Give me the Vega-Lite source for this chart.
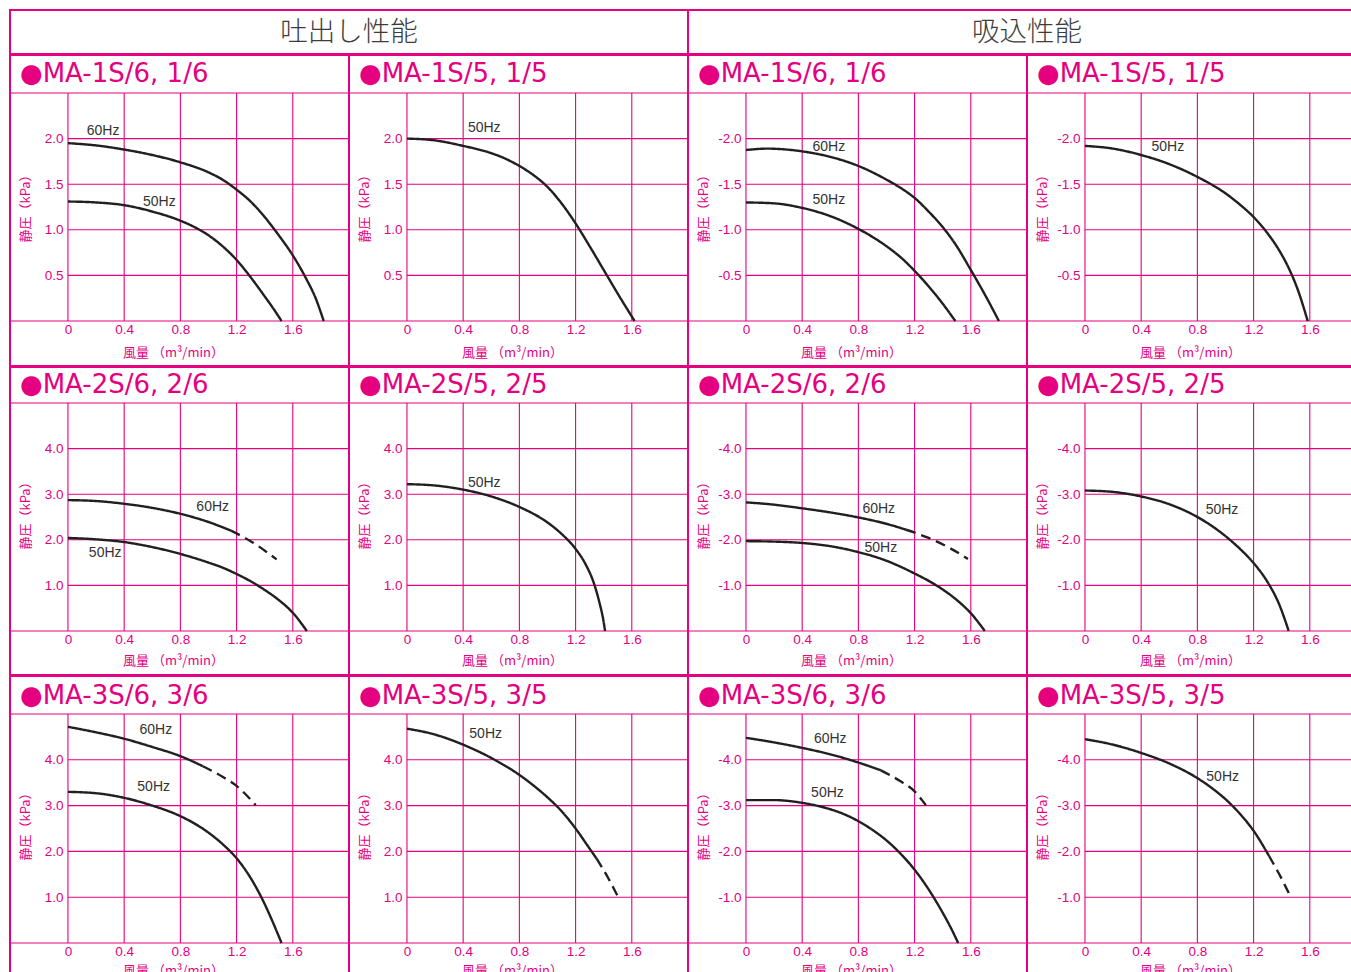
{
"$schema": "https://vega.github.io/schema/vega-lite/v6.json",
"padding": {"left": 8, "top": 9, "right": 0, "bottom": 0},
"background": "white",
"config": {
  "view": {"stroke": "#e4007f", "strokeWidth": 2},
  "title": {"anchor": "start", "frame": "group", "baseline": "alphabetic", "dx": 10, "fontSize": 26, "fontWeight": "normal", "color": "#e4007f", "font": "DejaVu Sans"},
  "axis": {"grid": false, "domain": false, "ticks": false, "tickSize": 0, "labelFlush": false, "labelOverlap": false, "labelColor": "#e4007f", "labelFont": "Liberation Sans", "labelFontSize": 13.5, "titleColor": "#e4007f", "titleFont": "Noto Sans CJK JP", "titleFontSize": 13, "titleFontWeight": "normal"}
},
"datasets": {
  "gx": [{"v": 0}, {"v": 0.4}, {"v": 0.8}, {"v": 1.2}, {"v": 1.6}],
  "gyd1": [{"v": 0.5}, {"v": 1}, {"v": 1.5}, {"v": 2}],
  "gys1": [{"v": -0.5}, {"v": -1}, {"v": -1.5}, {"v": -2}],
  "gyd2": [{"v": 1}, {"v": 2}, {"v": 3}, {"v": 4}],
  "gys2": [{"v": -1}, {"v": -2}, {"v": -3}, {"v": -4}],
  "ed1": [{"v": 0}, {"v": 2.5}],
  "es1": [{"v": 0}, {"v": -2.5}],
  "ed2": [{"v": 0}, {"v": 5}],
  "es2": [{"v": 0}, {"v": -5}],
  "lab": [
    {"panel": 1, "hz": "60Hz", "q": 0.25, "kpa": 2.08},
    {"panel": 1, "hz": "50Hz", "q": 0.65, "kpa": 1.31},
    {"panel": 2, "hz": "50Hz", "q": 0.55, "kpa": 2.12},
    {"panel": 3, "hz": "60Hz", "q": 0.59, "kpa": -1.91},
    {"panel": 3, "hz": "50Hz", "q": 0.59, "kpa": -1.33},
    {"panel": 4, "hz": "50Hz", "q": 0.59, "kpa": -1.91},
    {"panel": 5, "hz": "60Hz", "q": 1.03, "kpa": 2.71},
    {"panel": 5, "hz": "50Hz", "q": 0.265, "kpa": 1.71},
    {"panel": 6, "hz": "50Hz", "q": 0.55, "kpa": 3.24},
    {"panel": 7, "hz": "60Hz", "q": 0.945, "kpa": -2.67},
    {"panel": 7, "hz": "50Hz", "q": 0.96, "kpa": -1.82},
    {"panel": 8, "hz": "50Hz", "q": 0.975, "kpa": -2.65},
    {"panel": 9, "hz": "60Hz", "q": 0.625, "kpa": 4.64},
    {"panel": 9, "hz": "50Hz", "q": 0.61, "kpa": 3.4},
    {"panel": 10, "hz": "50Hz", "q": 0.56, "kpa": 4.56},
    {"panel": 11, "hz": "60Hz", "q": 0.6, "kpa": -4.45},
    {"panel": 11, "hz": "50Hz", "q": 0.58, "kpa": -3.28},
    {"panel": 12, "hz": "50Hz", "q": 0.98, "kpa": -3.62}
  ],
  "c": [
    {"panel": 1, "hz": "60Hz", "seg": "s", "q": 0, "kpa": 1.95},
    {"panel": 1, "hz": "60Hz", "seg": "s", "q": 0.2, "kpa": 1.925},
    {"panel": 1, "hz": "60Hz", "seg": "s", "q": 0.4, "kpa": 1.88},
    {"panel": 1, "hz": "60Hz", "seg": "s", "q": 0.6, "kpa": 1.82},
    {"panel": 1, "hz": "60Hz", "seg": "s", "q": 0.8, "kpa": 1.74},
    {"panel": 1, "hz": "60Hz", "seg": "s", "q": 1.0, "kpa": 1.63},
    {"panel": 1, "hz": "60Hz", "seg": "s", "q": 1.1, "kpa": 1.55},
    {"panel": 1, "hz": "60Hz", "seg": "s", "q": 1.2, "kpa": 1.44},
    {"panel": 1, "hz": "60Hz", "seg": "s", "q": 1.3, "kpa": 1.31},
    {"panel": 1, "hz": "60Hz", "seg": "s", "q": 1.4, "kpa": 1.14},
    {"panel": 1, "hz": "60Hz", "seg": "s", "q": 1.5, "kpa": 0.94},
    {"panel": 1, "hz": "60Hz", "seg": "s", "q": 1.6, "kpa": 0.72},
    {"panel": 1, "hz": "60Hz", "seg": "s", "q": 1.7, "kpa": 0.45},
    {"panel": 1, "hz": "60Hz", "seg": "s", "q": 1.76, "kpa": 0.26},
    {"panel": 1, "hz": "60Hz", "seg": "s", "q": 1.82, "kpa": 0},
    {"panel": 1, "hz": "50Hz", "seg": "s", "q": 0, "kpa": 1.31},
    {"panel": 1, "hz": "50Hz", "seg": "s", "q": 0.2, "kpa": 1.3},
    {"panel": 1, "hz": "50Hz", "seg": "s", "q": 0.4, "kpa": 1.27},
    {"panel": 1, "hz": "50Hz", "seg": "s", "q": 0.6, "kpa": 1.2},
    {"panel": 1, "hz": "50Hz", "seg": "s", "q": 0.8, "kpa": 1.1},
    {"panel": 1, "hz": "50Hz", "seg": "s", "q": 0.9, "kpa": 1.03},
    {"panel": 1, "hz": "50Hz", "seg": "s", "q": 1.0, "kpa": 0.94},
    {"panel": 1, "hz": "50Hz", "seg": "s", "q": 1.1, "kpa": 0.82},
    {"panel": 1, "hz": "50Hz", "seg": "s", "q": 1.2, "kpa": 0.67},
    {"panel": 1, "hz": "50Hz", "seg": "s", "q": 1.3, "kpa": 0.48},
    {"panel": 1, "hz": "50Hz", "seg": "s", "q": 1.4, "kpa": 0.27},
    {"panel": 1, "hz": "50Hz", "seg": "s", "q": 1.46, "kpa": 0.14},
    {"panel": 1, "hz": "50Hz", "seg": "s", "q": 1.52, "kpa": 0},
    {"panel": 2, "hz": "50Hz", "seg": "s", "q": 0, "kpa": 2.0},
    {"panel": 2, "hz": "50Hz", "seg": "s", "q": 0.2, "kpa": 1.98},
    {"panel": 2, "hz": "50Hz", "seg": "s", "q": 0.4, "kpa": 1.92},
    {"panel": 2, "hz": "50Hz", "seg": "s", "q": 0.6, "kpa": 1.84},
    {"panel": 2, "hz": "50Hz", "seg": "s", "q": 0.7, "kpa": 1.78},
    {"panel": 2, "hz": "50Hz", "seg": "s", "q": 0.8, "kpa": 1.7},
    {"panel": 2, "hz": "50Hz", "seg": "s", "q": 0.9, "kpa": 1.6},
    {"panel": 2, "hz": "50Hz", "seg": "s", "q": 1.0, "kpa": 1.47},
    {"panel": 2, "hz": "50Hz", "seg": "s", "q": 1.1, "kpa": 1.29},
    {"panel": 2, "hz": "50Hz", "seg": "s", "q": 1.2, "kpa": 1.07},
    {"panel": 2, "hz": "50Hz", "seg": "s", "q": 1.3, "kpa": 0.82},
    {"panel": 2, "hz": "50Hz", "seg": "s", "q": 1.4, "kpa": 0.56},
    {"panel": 2, "hz": "50Hz", "seg": "s", "q": 1.5, "kpa": 0.3},
    {"panel": 2, "hz": "50Hz", "seg": "s", "q": 1.62, "kpa": 0},
    {"panel": 3, "hz": "60Hz", "seg": "s", "q": 0, "kpa": -1.875},
    {"panel": 3, "hz": "60Hz", "seg": "s", "q": 0.15, "kpa": -1.89},
    {"panel": 3, "hz": "60Hz", "seg": "s", "q": 0.4, "kpa": -1.86},
    {"panel": 3, "hz": "60Hz", "seg": "s", "q": 0.6, "kpa": -1.8},
    {"panel": 3, "hz": "60Hz", "seg": "s", "q": 0.8, "kpa": -1.7},
    {"panel": 3, "hz": "60Hz", "seg": "s", "q": 1.0, "kpa": -1.55},
    {"panel": 3, "hz": "60Hz", "seg": "s", "q": 1.1, "kpa": -1.46},
    {"panel": 3, "hz": "60Hz", "seg": "s", "q": 1.2, "kpa": -1.35},
    {"panel": 3, "hz": "60Hz", "seg": "s", "q": 1.3, "kpa": -1.2},
    {"panel": 3, "hz": "60Hz", "seg": "s", "q": 1.4, "kpa": -1.03},
    {"panel": 3, "hz": "60Hz", "seg": "s", "q": 1.5, "kpa": -0.82},
    {"panel": 3, "hz": "60Hz", "seg": "s", "q": 1.6, "kpa": -0.56},
    {"panel": 3, "hz": "60Hz", "seg": "s", "q": 1.7, "kpa": -0.29},
    {"panel": 3, "hz": "60Hz", "seg": "s", "q": 1.8, "kpa": 0},
    {"panel": 3, "hz": "50Hz", "seg": "s", "q": 0, "kpa": -1.3},
    {"panel": 3, "hz": "50Hz", "seg": "s", "q": 0.2, "kpa": -1.29},
    {"panel": 3, "hz": "50Hz", "seg": "s", "q": 0.4, "kpa": -1.24},
    {"panel": 3, "hz": "50Hz", "seg": "s", "q": 0.6, "kpa": -1.15},
    {"panel": 3, "hz": "50Hz", "seg": "s", "q": 0.8, "kpa": -1.01},
    {"panel": 3, "hz": "50Hz", "seg": "s", "q": 1.0, "kpa": -0.82},
    {"panel": 3, "hz": "50Hz", "seg": "s", "q": 1.1, "kpa": -0.7},
    {"panel": 3, "hz": "50Hz", "seg": "s", "q": 1.2, "kpa": -0.55},
    {"panel": 3, "hz": "50Hz", "seg": "s", "q": 1.3, "kpa": -0.38},
    {"panel": 3, "hz": "50Hz", "seg": "s", "q": 1.4, "kpa": -0.19},
    {"panel": 3, "hz": "50Hz", "seg": "s", "q": 1.49, "kpa": 0},
    {"panel": 4, "hz": "50Hz", "seg": "s", "q": 0, "kpa": -1.92},
    {"panel": 4, "hz": "50Hz", "seg": "s", "q": 0.2, "kpa": -1.89},
    {"panel": 4, "hz": "50Hz", "seg": "s", "q": 0.4, "kpa": -1.82},
    {"panel": 4, "hz": "50Hz", "seg": "s", "q": 0.6, "kpa": -1.72},
    {"panel": 4, "hz": "50Hz", "seg": "s", "q": 0.8, "kpa": -1.58},
    {"panel": 4, "hz": "50Hz", "seg": "s", "q": 1.0, "kpa": -1.4},
    {"panel": 4, "hz": "50Hz", "seg": "s", "q": 1.1, "kpa": -1.28},
    {"panel": 4, "hz": "50Hz", "seg": "s", "q": 1.2, "kpa": -1.14},
    {"panel": 4, "hz": "50Hz", "seg": "s", "q": 1.3, "kpa": -0.96},
    {"panel": 4, "hz": "50Hz", "seg": "s", "q": 1.38, "kpa": -0.78},
    {"panel": 4, "hz": "50Hz", "seg": "s", "q": 1.45, "kpa": -0.58},
    {"panel": 4, "hz": "50Hz", "seg": "s", "q": 1.52, "kpa": -0.32},
    {"panel": 4, "hz": "50Hz", "seg": "s", "q": 1.585, "kpa": 0},
    {"panel": 5, "hz": "60Hz", "seg": "s", "q": 0, "kpa": 2.87},
    {"panel": 5, "hz": "60Hz", "seg": "s", "q": 0.2, "kpa": 2.85},
    {"panel": 5, "hz": "60Hz", "seg": "s", "q": 0.4, "kpa": 2.79},
    {"panel": 5, "hz": "60Hz", "seg": "s", "q": 0.6, "kpa": 2.7},
    {"panel": 5, "hz": "60Hz", "seg": "s", "q": 0.8, "kpa": 2.57},
    {"panel": 5, "hz": "60Hz", "seg": "s", "q": 1.0, "kpa": 2.39},
    {"panel": 5, "hz": "60Hz", "seg": "s", "q": 1.16, "kpa": 2.2},
    {"panel": 5, "hz": "60Hz", "seg": "d", "q": 1.16, "kpa": 2.2},
    {"panel": 5, "hz": "60Hz", "seg": "d", "q": 1.3, "kpa": 1.97},
    {"panel": 5, "hz": "60Hz", "seg": "d", "q": 1.485, "kpa": 1.57},
    {"panel": 5, "hz": "50Hz", "seg": "s", "q": 0, "kpa": 2.04},
    {"panel": 5, "hz": "50Hz", "seg": "s", "q": 0.2, "kpa": 2.01},
    {"panel": 5, "hz": "50Hz", "seg": "s", "q": 0.4, "kpa": 1.95},
    {"panel": 5, "hz": "50Hz", "seg": "s", "q": 0.6, "kpa": 1.84},
    {"panel": 5, "hz": "50Hz", "seg": "s", "q": 0.8, "kpa": 1.69},
    {"panel": 5, "hz": "50Hz", "seg": "s", "q": 1.0, "kpa": 1.5},
    {"panel": 5, "hz": "50Hz", "seg": "s", "q": 1.1, "kpa": 1.39},
    {"panel": 5, "hz": "50Hz", "seg": "s", "q": 1.2, "kpa": 1.25},
    {"panel": 5, "hz": "50Hz", "seg": "s", "q": 1.3, "kpa": 1.09},
    {"panel": 5, "hz": "50Hz", "seg": "s", "q": 1.4, "kpa": 0.9},
    {"panel": 5, "hz": "50Hz", "seg": "s", "q": 1.5, "kpa": 0.68},
    {"panel": 5, "hz": "50Hz", "seg": "s", "q": 1.6, "kpa": 0.4},
    {"panel": 5, "hz": "50Hz", "seg": "s", "q": 1.7, "kpa": 0},
    {"panel": 6, "hz": "50Hz", "seg": "s", "q": 0, "kpa": 3.22},
    {"panel": 6, "hz": "50Hz", "seg": "s", "q": 0.2, "kpa": 3.19},
    {"panel": 6, "hz": "50Hz", "seg": "s", "q": 0.4, "kpa": 3.1},
    {"panel": 6, "hz": "50Hz", "seg": "s", "q": 0.6, "kpa": 2.95},
    {"panel": 6, "hz": "50Hz", "seg": "s", "q": 0.8, "kpa": 2.72},
    {"panel": 6, "hz": "50Hz", "seg": "s", "q": 1.0, "kpa": 2.38},
    {"panel": 6, "hz": "50Hz", "seg": "s", "q": 1.1, "kpa": 2.13},
    {"panel": 6, "hz": "50Hz", "seg": "s", "q": 1.2, "kpa": 1.8},
    {"panel": 6, "hz": "50Hz", "seg": "s", "q": 1.27, "kpa": 1.47},
    {"panel": 6, "hz": "50Hz", "seg": "s", "q": 1.33, "kpa": 1.05},
    {"panel": 6, "hz": "50Hz", "seg": "s", "q": 1.37, "kpa": 0.62},
    {"panel": 6, "hz": "50Hz", "seg": "s", "q": 1.395, "kpa": 0.28},
    {"panel": 6, "hz": "50Hz", "seg": "s", "q": 1.41, "kpa": 0},
    {"panel": 7, "hz": "60Hz", "seg": "s", "q": 0, "kpa": -2.82},
    {"panel": 7, "hz": "60Hz", "seg": "s", "q": 0.2, "kpa": -2.77},
    {"panel": 7, "hz": "60Hz", "seg": "s", "q": 0.4, "kpa": -2.69},
    {"panel": 7, "hz": "60Hz", "seg": "s", "q": 0.6, "kpa": -2.6},
    {"panel": 7, "hz": "60Hz", "seg": "s", "q": 0.8, "kpa": -2.49},
    {"panel": 7, "hz": "60Hz", "seg": "s", "q": 1.0, "kpa": -2.35},
    {"panel": 7, "hz": "60Hz", "seg": "s", "q": 1.14, "kpa": -2.22},
    {"panel": 7, "hz": "60Hz", "seg": "d", "q": 1.14, "kpa": -2.22},
    {"panel": 7, "hz": "60Hz", "seg": "d", "q": 1.3, "kpa": -2.04},
    {"panel": 7, "hz": "60Hz", "seg": "d", "q": 1.45, "kpa": -1.82},
    {"panel": 7, "hz": "60Hz", "seg": "d", "q": 1.58, "kpa": -1.58},
    {"panel": 7, "hz": "50Hz", "seg": "s", "q": 0, "kpa": -1.97},
    {"panel": 7, "hz": "50Hz", "seg": "s", "q": 0.2, "kpa": -1.96},
    {"panel": 7, "hz": "50Hz", "seg": "s", "q": 0.4, "kpa": -1.93},
    {"panel": 7, "hz": "50Hz", "seg": "s", "q": 0.6, "kpa": -1.86},
    {"panel": 7, "hz": "50Hz", "seg": "s", "q": 0.8, "kpa": -1.73},
    {"panel": 7, "hz": "50Hz", "seg": "s", "q": 1.0, "kpa": -1.54},
    {"panel": 7, "hz": "50Hz", "seg": "s", "q": 1.1, "kpa": -1.41},
    {"panel": 7, "hz": "50Hz", "seg": "s", "q": 1.2, "kpa": -1.26},
    {"panel": 7, "hz": "50Hz", "seg": "s", "q": 1.3, "kpa": -1.1},
    {"panel": 7, "hz": "50Hz", "seg": "s", "q": 1.4, "kpa": -0.91},
    {"panel": 7, "hz": "50Hz", "seg": "s", "q": 1.5, "kpa": -0.68},
    {"panel": 7, "hz": "50Hz", "seg": "s", "q": 1.6, "kpa": -0.39},
    {"panel": 7, "hz": "50Hz", "seg": "s", "q": 1.7, "kpa": 0},
    {"panel": 8, "hz": "50Hz", "seg": "s", "q": 0, "kpa": -3.08},
    {"panel": 8, "hz": "50Hz", "seg": "s", "q": 0.2, "kpa": -3.05},
    {"panel": 8, "hz": "50Hz", "seg": "s", "q": 0.4, "kpa": -2.95},
    {"panel": 8, "hz": "50Hz", "seg": "s", "q": 0.6, "kpa": -2.78},
    {"panel": 8, "hz": "50Hz", "seg": "s", "q": 0.8, "kpa": -2.5},
    {"panel": 8, "hz": "50Hz", "seg": "s", "q": 0.9, "kpa": -2.31},
    {"panel": 8, "hz": "50Hz", "seg": "s", "q": 1.0, "kpa": -2.08},
    {"panel": 8, "hz": "50Hz", "seg": "s", "q": 1.1, "kpa": -1.81},
    {"panel": 8, "hz": "50Hz", "seg": "s", "q": 1.2, "kpa": -1.49},
    {"panel": 8, "hz": "50Hz", "seg": "s", "q": 1.3, "kpa": -1.07},
    {"panel": 8, "hz": "50Hz", "seg": "s", "q": 1.38, "kpa": -0.6},
    {"panel": 8, "hz": "50Hz", "seg": "s", "q": 1.45, "kpa": 0},
    {"panel": 9, "hz": "60Hz", "seg": "s", "q": 0, "kpa": 4.72},
    {"panel": 9, "hz": "60Hz", "seg": "s", "q": 0.2, "kpa": 4.6},
    {"panel": 9, "hz": "60Hz", "seg": "s", "q": 0.4, "kpa": 4.46},
    {"panel": 9, "hz": "60Hz", "seg": "s", "q": 0.6, "kpa": 4.28},
    {"panel": 9, "hz": "60Hz", "seg": "s", "q": 0.8, "kpa": 4.08},
    {"panel": 9, "hz": "60Hz", "seg": "s", "q": 0.96, "kpa": 3.86},
    {"panel": 9, "hz": "60Hz", "seg": "d", "q": 0.96, "kpa": 3.86},
    {"panel": 9, "hz": "60Hz", "seg": "d", "q": 1.1, "kpa": 3.63},
    {"panel": 9, "hz": "60Hz", "seg": "d", "q": 1.2, "kpa": 3.43},
    {"panel": 9, "hz": "60Hz", "seg": "d", "q": 1.336, "kpa": 3.01},
    {"panel": 9, "hz": "50Hz", "seg": "s", "q": 0, "kpa": 3.3},
    {"panel": 9, "hz": "50Hz", "seg": "s", "q": 0.2, "kpa": 3.27},
    {"panel": 9, "hz": "50Hz", "seg": "s", "q": 0.4, "kpa": 3.17},
    {"panel": 9, "hz": "50Hz", "seg": "s", "q": 0.6, "kpa": 3.0},
    {"panel": 9, "hz": "50Hz", "seg": "s", "q": 0.8, "kpa": 2.77},
    {"panel": 9, "hz": "50Hz", "seg": "s", "q": 0.9, "kpa": 2.61},
    {"panel": 9, "hz": "50Hz", "seg": "s", "q": 1.0, "kpa": 2.41},
    {"panel": 9, "hz": "50Hz", "seg": "s", "q": 1.1, "kpa": 2.16},
    {"panel": 9, "hz": "50Hz", "seg": "s", "q": 1.2, "kpa": 1.85},
    {"panel": 9, "hz": "50Hz", "seg": "s", "q": 1.3, "kpa": 1.42},
    {"panel": 9, "hz": "50Hz", "seg": "s", "q": 1.4, "kpa": 0.85},
    {"panel": 9, "hz": "50Hz", "seg": "s", "q": 1.46, "kpa": 0.44},
    {"panel": 9, "hz": "50Hz", "seg": "s", "q": 1.52, "kpa": 0},
    {"panel": 10, "hz": "50Hz", "seg": "s", "q": 0, "kpa": 4.68},
    {"panel": 10, "hz": "50Hz", "seg": "s", "q": 0.2, "kpa": 4.55},
    {"panel": 10, "hz": "50Hz", "seg": "s", "q": 0.4, "kpa": 4.33},
    {"panel": 10, "hz": "50Hz", "seg": "s", "q": 0.6, "kpa": 4.04},
    {"panel": 10, "hz": "50Hz", "seg": "s", "q": 0.8, "kpa": 3.67},
    {"panel": 10, "hz": "50Hz", "seg": "s", "q": 0.9, "kpa": 3.44},
    {"panel": 10, "hz": "50Hz", "seg": "s", "q": 1.0, "kpa": 3.18},
    {"panel": 10, "hz": "50Hz", "seg": "s", "q": 1.1, "kpa": 2.88},
    {"panel": 10, "hz": "50Hz", "seg": "s", "q": 1.2, "kpa": 2.5},
    {"panel": 10, "hz": "50Hz", "seg": "s", "q": 1.3, "kpa": 2.06},
    {"panel": 10, "hz": "50Hz", "seg": "s", "q": 1.35, "kpa": 1.84},
    {"panel": 10, "hz": "50Hz", "seg": "d", "q": 1.35, "kpa": 1.84},
    {"panel": 10, "hz": "50Hz", "seg": "d", "q": 1.43, "kpa": 1.43},
    {"panel": 10, "hz": "50Hz", "seg": "d", "q": 1.5, "kpa": 1.02},
    {"panel": 11, "hz": "60Hz", "seg": "s", "q": 0, "kpa": -4.48},
    {"panel": 11, "hz": "60Hz", "seg": "s", "q": 0.2, "kpa": -4.38},
    {"panel": 11, "hz": "60Hz", "seg": "s", "q": 0.4, "kpa": -4.26},
    {"panel": 11, "hz": "60Hz", "seg": "s", "q": 0.6, "kpa": -4.12},
    {"panel": 11, "hz": "60Hz", "seg": "s", "q": 0.8, "kpa": -3.94},
    {"panel": 11, "hz": "60Hz", "seg": "s", "q": 0.96, "kpa": -3.77},
    {"panel": 11, "hz": "60Hz", "seg": "d", "q": 0.96, "kpa": -3.77},
    {"panel": 11, "hz": "60Hz", "seg": "d", "q": 1.1, "kpa": -3.53},
    {"panel": 11, "hz": "60Hz", "seg": "d", "q": 1.2, "kpa": -3.31},
    {"panel": 11, "hz": "60Hz", "seg": "d", "q": 1.28, "kpa": -3.01},
    {"panel": 11, "hz": "50Hz", "seg": "s", "q": 0, "kpa": -3.12},
    {"panel": 11, "hz": "50Hz", "seg": "s", "q": 0.2, "kpa": -3.12},
    {"panel": 11, "hz": "50Hz", "seg": "s", "q": 0.4, "kpa": -3.06},
    {"panel": 11, "hz": "50Hz", "seg": "s", "q": 0.6, "kpa": -2.92},
    {"panel": 11, "hz": "50Hz", "seg": "s", "q": 0.7, "kpa": -2.81},
    {"panel": 11, "hz": "50Hz", "seg": "s", "q": 0.8, "kpa": -2.66},
    {"panel": 11, "hz": "50Hz", "seg": "s", "q": 0.9, "kpa": -2.47},
    {"panel": 11, "hz": "50Hz", "seg": "s", "q": 1.0, "kpa": -2.24},
    {"panel": 11, "hz": "50Hz", "seg": "s", "q": 1.1, "kpa": -1.95},
    {"panel": 11, "hz": "50Hz", "seg": "s", "q": 1.2, "kpa": -1.6},
    {"panel": 11, "hz": "50Hz", "seg": "s", "q": 1.3, "kpa": -1.17},
    {"panel": 11, "hz": "50Hz", "seg": "s", "q": 1.4, "kpa": -0.66},
    {"panel": 11, "hz": "50Hz", "seg": "s", "q": 1.46, "kpa": -0.32},
    {"panel": 11, "hz": "50Hz", "seg": "s", "q": 1.51, "kpa": 0},
    {"panel": 12, "hz": "50Hz", "seg": "s", "q": 0, "kpa": -4.45},
    {"panel": 12, "hz": "50Hz", "seg": "s", "q": 0.2, "kpa": -4.33},
    {"panel": 12, "hz": "50Hz", "seg": "s", "q": 0.4, "kpa": -4.15},
    {"panel": 12, "hz": "50Hz", "seg": "s", "q": 0.6, "kpa": -3.92},
    {"panel": 12, "hz": "50Hz", "seg": "s", "q": 0.8, "kpa": -3.6},
    {"panel": 12, "hz": "50Hz", "seg": "s", "q": 0.9, "kpa": -3.39},
    {"panel": 12, "hz": "50Hz", "seg": "s", "q": 1.0, "kpa": -3.14},
    {"panel": 12, "hz": "50Hz", "seg": "s", "q": 1.1, "kpa": -2.83},
    {"panel": 12, "hz": "50Hz", "seg": "s", "q": 1.2, "kpa": -2.45},
    {"panel": 12, "hz": "50Hz", "seg": "s", "q": 1.31, "kpa": -1.9},
    {"panel": 12, "hz": "50Hz", "seg": "d", "q": 1.31, "kpa": -1.9},
    {"panel": 12, "hz": "50Hz", "seg": "d", "q": 1.39, "kpa": -1.46},
    {"panel": 12, "hz": "50Hz", "seg": "d", "q": 1.46, "kpa": -1.03}
  ]
},
"spacing": -2,
"bounds": "full",
"vconcat": [
 {"spacing": 0, "bounds": "flush", "hconcat": [
   {"width": 678, "height": 44, "data": {"values": [{"t": "吐出し性能"}]}, "mark": {"type": "text", "font": "Noto Sans CJK JP", "fontSize": 27.5, "fontWeight": 300, "color": "#3c3c3c", "dy": 1},
    "encoding": {"text": {"field": "t", "type": "nominal"}, "x": {"datum": 0.5, "type": "quantitative", "scale": {"domain": [0, 1]}, "axis": null}, "y": {"datum": 0.5, "type": "quantitative", "scale": {"domain": [0, 1]}, "axis": null}}},
   {"width": 678, "height": 44, "data": {"values": [{"t": "吸込性能"}]}, "mark": {"type": "text", "font": "Noto Sans CJK JP", "fontSize": 27.5, "fontWeight": 300, "color": "#3c3c3c", "dy": 1},
    "encoding": {"text": {"field": "t", "type": "nominal"}, "x": {"datum": 0.5, "type": "quantitative", "scale": {"domain": [0, 1]}, "axis": null}, "y": {"datum": 0.5, "type": "quantitative", "scale": {"domain": [0, 1]}, "axis": null}}}
 ]},
 {"spacing": 0, "bounds": "flush", "hconcat": [
  {"width": 339, "height": 311, "title": {"text": "●MA-1S/6, 1/6", "offset": -32},
   "layer": [
    {"data": {"name": "gx"}, "mark": {"type": "rule", "color": "#e6007e", "strokeWidth": 1.1}, "encoding": {"x": {"field": "v", "type": "quantitative"}, "y": {"datum": 0, "type": "quantitative"}, "y2": {"datum": 2.5}}},
    {"data": {"name": "gyd1"}, "mark": {"type": "rule", "color": "#e6007e", "strokeWidth": 1.1}, "encoding": {"y": {"field": "v", "type": "quantitative"}, "x": {"datum": 0, "type": "quantitative"}, "x2": {"datum": 2}}},
    {"data": {"name": "ed1"}, "mark": {"type": "rule", "color": "#e6007e", "strokeWidth": 1.1}, "encoding": {"y": {"field": "v", "type": "quantitative"}}},
    {"data": {"name": "c"}, "transform": [{"filter": {"field": "panel", "equal": 1}}], "mark": {"type": "line", "color": "#231f20", "strokeWidth": 2.4, "interpolate": "monotone"},
     "encoding": {
      "x": {"field": "q", "type": "quantitative", "scale": {"domain": [-0.4125, 2], "nice": false, "zero": false}, "axis": {"offset": -45, "values": [0, 0.4, 0.8, 1.2, 1.6], "labelExpr": "datum.value == 0 ? '0' : format(datum.value, '.1f')", "labelPadding": 1, "title": "風量 （m³/min）", "titleX": 163, "titleY": 31, "titleBaseline": "middle"}},
      "y": {"field": "kpa", "type": "quantitative", "scale": {"domain": [-0.4934, 2.9167], "nice": false, "zero": false}, "axis": {"offset": -58, "values": [0.5, 1, 1.5, 2], "labelExpr": "format(datum.value, '.1f')", "labelPadding": 5, "title": "静圧（kPa）", "titleX": -43, "titleY": 150, "titleBaseline": "middle"}},
      "detail": {"field": "hz"},
      "strokeDash": {"field": "seg", "type": "nominal", "scale": {"domain": ["s", "d"], "range": [[1, 0], [10, 6]]}, "legend": null}}},
    {"data": {"name": "lab"}, "transform": [{"filter": {"field": "panel", "equal": 1}}], "mark": {"type": "text", "fontSize": 14, "color": "#333333", "font": "Liberation Sans"}, "encoding": {"x": {"field": "q", "type": "quantitative"}, "y": {"field": "kpa", "type": "quantitative"}, "text": {"field": "hz"}}}
   ]},
  {"width": 339, "height": 311, "title": {"text": "●MA-1S/5, 1/5", "offset": -32},
   "layer": [
    {"data": {"name": "gx"}, "mark": {"type": "rule", "color": "#e6007e", "strokeWidth": 1.1}, "encoding": {"x": {"field": "v", "type": "quantitative"}, "y": {"datum": 0, "type": "quantitative"}, "y2": {"datum": 2.5}}},
    {"data": {"name": "gyd1"}, "mark": {"type": "rule", "color": "#e6007e", "strokeWidth": 1.1}, "encoding": {"y": {"field": "v", "type": "quantitative"}, "x": {"datum": 0, "type": "quantitative"}, "x2": {"datum": 2}}},
    {"data": {"name": "ed1"}, "mark": {"type": "rule", "color": "#e6007e", "strokeWidth": 1.1}, "encoding": {"y": {"field": "v", "type": "quantitative"}}},
    {"data": {"name": "c"}, "transform": [{"filter": {"field": "panel", "equal": 2}}], "mark": {"type": "line", "color": "#231f20", "strokeWidth": 2.4, "interpolate": "monotone"},
     "encoding": {
      "x": {"field": "q", "type": "quantitative", "scale": {"domain": [-0.4125, 2], "nice": false, "zero": false}, "axis": {"offset": -45, "values": [0, 0.4, 0.8, 1.2, 1.6], "labelExpr": "datum.value == 0 ? '0' : format(datum.value, '.1f')", "labelPadding": 1, "title": "風量 （m³/min）", "titleX": 163, "titleY": 31, "titleBaseline": "middle"}},
      "y": {"field": "kpa", "type": "quantitative", "scale": {"domain": [-0.4934, 2.9167], "nice": false, "zero": false}, "axis": {"offset": -58, "values": [0.5, 1, 1.5, 2], "labelExpr": "format(datum.value, '.1f')", "labelPadding": 5, "title": "静圧（kPa）", "titleX": -43, "titleY": 150, "titleBaseline": "middle"}},
      "detail": {"field": "hz"},
      "strokeDash": {"field": "seg", "type": "nominal", "scale": {"domain": ["s", "d"], "range": [[1, 0], [10, 6]]}, "legend": null}}},
    {"data": {"name": "lab"}, "transform": [{"filter": {"field": "panel", "equal": 2}}], "mark": {"type": "text", "fontSize": 14, "color": "#333333", "font": "Liberation Sans"}, "encoding": {"x": {"field": "q", "type": "quantitative"}, "y": {"field": "kpa", "type": "quantitative"}, "text": {"field": "hz"}}}
   ]},
  {"width": 339, "height": 311, "title": {"text": "●MA-1S/6, 1/6", "offset": -32},
   "layer": [
    {"data": {"name": "gx"}, "mark": {"type": "rule", "color": "#e6007e", "strokeWidth": 1.1}, "encoding": {"x": {"field": "v", "type": "quantitative"}, "y": {"datum": 0, "type": "quantitative"}, "y2": {"datum": -2.5}}},
    {"data": {"name": "gys1"}, "mark": {"type": "rule", "color": "#e6007e", "strokeWidth": 1.1}, "encoding": {"y": {"field": "v", "type": "quantitative"}, "x": {"datum": 0, "type": "quantitative"}, "x2": {"datum": 2}}},
    {"data": {"name": "es1"}, "mark": {"type": "rule", "color": "#e6007e", "strokeWidth": 1.1}, "encoding": {"y": {"field": "v", "type": "quantitative"}}},
    {"data": {"name": "c"}, "transform": [{"filter": {"field": "panel", "equal": 3}}], "mark": {"type": "line", "color": "#231f20", "strokeWidth": 2.4, "interpolate": "monotone"},
     "encoding": {
      "x": {"field": "q", "type": "quantitative", "scale": {"domain": [-0.4125, 2], "nice": false, "zero": false}, "axis": {"offset": -45, "values": [0, 0.4, 0.8, 1.2, 1.6], "labelExpr": "datum.value == 0 ? '0' : format(datum.value, '.1f')", "labelPadding": 1, "title": "風量 （m³/min）", "titleX": 163, "titleY": 31, "titleBaseline": "middle"}},
      "y": {"field": "kpa", "type": "quantitative", "scale": {"domain": [-2.9167, 0.4934], "nice": false, "zero": false, "reverse": true}, "axis": {"offset": -58, "values": [-0.5, -1, -1.5, -2], "labelExpr": "'-' + format(abs(datum.value), '.1f')", "labelPadding": 5, "title": "静圧（kPa）", "titleX": -43, "titleY": 150, "titleBaseline": "middle"}},
      "detail": {"field": "hz"},
      "strokeDash": {"field": "seg", "type": "nominal", "scale": {"domain": ["s", "d"], "range": [[1, 0], [10, 6]]}, "legend": null}}},
    {"data": {"name": "lab"}, "transform": [{"filter": {"field": "panel", "equal": 3}}], "mark": {"type": "text", "fontSize": 14, "color": "#333333", "font": "Liberation Sans"}, "encoding": {"x": {"field": "q", "type": "quantitative"}, "y": {"field": "kpa", "type": "quantitative"}, "text": {"field": "hz"}}}
   ]},
  {"width": 339, "height": 311, "title": {"text": "●MA-1S/5, 1/5", "offset": -32},
   "layer": [
    {"data": {"name": "gx"}, "mark": {"type": "rule", "color": "#e6007e", "strokeWidth": 1.1}, "encoding": {"x": {"field": "v", "type": "quantitative"}, "y": {"datum": 0, "type": "quantitative"}, "y2": {"datum": -2.5}}},
    {"data": {"name": "gys1"}, "mark": {"type": "rule", "color": "#e6007e", "strokeWidth": 1.1}, "encoding": {"y": {"field": "v", "type": "quantitative"}, "x": {"datum": 0, "type": "quantitative"}, "x2": {"datum": 2}}},
    {"data": {"name": "es1"}, "mark": {"type": "rule", "color": "#e6007e", "strokeWidth": 1.1}, "encoding": {"y": {"field": "v", "type": "quantitative"}}},
    {"data": {"name": "c"}, "transform": [{"filter": {"field": "panel", "equal": 4}}], "mark": {"type": "line", "color": "#231f20", "strokeWidth": 2.4, "interpolate": "monotone"},
     "encoding": {
      "x": {"field": "q", "type": "quantitative", "scale": {"domain": [-0.4125, 2], "nice": false, "zero": false}, "axis": {"offset": -45, "values": [0, 0.4, 0.8, 1.2, 1.6], "labelExpr": "datum.value == 0 ? '0' : format(datum.value, '.1f')", "labelPadding": 1, "title": "風量 （m³/min）", "titleX": 163, "titleY": 31, "titleBaseline": "middle"}},
      "y": {"field": "kpa", "type": "quantitative", "scale": {"domain": [-2.9167, 0.4934], "nice": false, "zero": false, "reverse": true}, "axis": {"offset": -58, "values": [-0.5, -1, -1.5, -2], "labelExpr": "'-' + format(abs(datum.value), '.1f')", "labelPadding": 5, "title": "静圧（kPa）", "titleX": -43, "titleY": 150, "titleBaseline": "middle"}},
      "detail": {"field": "hz"},
      "strokeDash": {"field": "seg", "type": "nominal", "scale": {"domain": ["s", "d"], "range": [[1, 0], [10, 6]]}, "legend": null}}},
    {"data": {"name": "lab"}, "transform": [{"filter": {"field": "panel", "equal": 4}}], "mark": {"type": "text", "fontSize": 14, "color": "#333333", "font": "Liberation Sans"}, "encoding": {"x": {"field": "q", "type": "quantitative"}, "y": {"field": "kpa", "type": "quantitative"}, "text": {"field": "hz"}}}
   ]}
 ]},
 {"spacing": 0, "bounds": "flush", "hconcat": [
  {"width": 339, "height": 308, "title": {"text": "●MA-2S/6, 2/6", "offset": -31},
   "layer": [
    {"data": {"name": "gx"}, "mark": {"type": "rule", "color": "#e6007e", "strokeWidth": 1.1}, "encoding": {"x": {"field": "v", "type": "quantitative"}, "y": {"datum": 0, "type": "quantitative"}, "y2": {"datum": 5}}},
    {"data": {"name": "gyd2"}, "mark": {"type": "rule", "color": "#e6007e", "strokeWidth": 1.1}, "encoding": {"y": {"field": "v", "type": "quantitative"}, "x": {"datum": 0, "type": "quantitative"}, "x2": {"datum": 2}}},
    {"data": {"name": "ed2"}, "mark": {"type": "rule", "color": "#e6007e", "strokeWidth": 1.1}, "encoding": {"y": {"field": "v", "type": "quantitative"}}},
    {"data": {"name": "c"}, "transform": [{"filter": {"field": "panel", "equal": 5}}], "mark": {"type": "line", "color": "#231f20", "strokeWidth": 2.4, "interpolate": "monotone"},
     "encoding": {
      "x": {"field": "q", "type": "quantitative", "scale": {"domain": [-0.4125, 2], "nice": false, "zero": false}, "axis": {"offset": -44, "values": [0, 0.4, 0.8, 1.2, 1.6], "labelExpr": "datum.value == 0 ? '0' : format(datum.value, '.1f')", "labelPadding": 1, "title": "風量 （m³/min）", "titleX": 163, "titleY": 29, "titleBaseline": "middle"}},
      "y": {"field": "kpa", "type": "quantitative", "scale": {"domain": [-0.965, 5.789], "nice": false, "zero": false}, "axis": {"offset": -58, "values": [1, 2, 3, 4], "labelExpr": "format(datum.value, '.1f')", "labelPadding": 5, "title": "静圧（kPa）", "titleX": -43, "titleY": 145, "titleBaseline": "middle"}},
      "detail": {"field": "hz"},
      "strokeDash": {"field": "seg", "type": "nominal", "scale": {"domain": ["s", "d"], "range": [[1, 0], [10, 6]]}, "legend": null}}},
    {"data": {"name": "lab"}, "transform": [{"filter": {"field": "panel", "equal": 5}}], "mark": {"type": "text", "fontSize": 14, "color": "#333333", "font": "Liberation Sans"}, "encoding": {"x": {"field": "q", "type": "quantitative"}, "y": {"field": "kpa", "type": "quantitative"}, "text": {"field": "hz"}}}
   ]},
  {"width": 339, "height": 308, "title": {"text": "●MA-2S/5, 2/5", "offset": -31},
   "layer": [
    {"data": {"name": "gx"}, "mark": {"type": "rule", "color": "#e6007e", "strokeWidth": 1.1}, "encoding": {"x": {"field": "v", "type": "quantitative"}, "y": {"datum": 0, "type": "quantitative"}, "y2": {"datum": 5}}},
    {"data": {"name": "gyd2"}, "mark": {"type": "rule", "color": "#e6007e", "strokeWidth": 1.1}, "encoding": {"y": {"field": "v", "type": "quantitative"}, "x": {"datum": 0, "type": "quantitative"}, "x2": {"datum": 2}}},
    {"data": {"name": "ed2"}, "mark": {"type": "rule", "color": "#e6007e", "strokeWidth": 1.1}, "encoding": {"y": {"field": "v", "type": "quantitative"}}},
    {"data": {"name": "c"}, "transform": [{"filter": {"field": "panel", "equal": 6}}], "mark": {"type": "line", "color": "#231f20", "strokeWidth": 2.4, "interpolate": "monotone"},
     "encoding": {
      "x": {"field": "q", "type": "quantitative", "scale": {"domain": [-0.4125, 2], "nice": false, "zero": false}, "axis": {"offset": -44, "values": [0, 0.4, 0.8, 1.2, 1.6], "labelExpr": "datum.value == 0 ? '0' : format(datum.value, '.1f')", "labelPadding": 1, "title": "風量 （m³/min）", "titleX": 163, "titleY": 29, "titleBaseline": "middle"}},
      "y": {"field": "kpa", "type": "quantitative", "scale": {"domain": [-0.965, 5.789], "nice": false, "zero": false}, "axis": {"offset": -58, "values": [1, 2, 3, 4], "labelExpr": "format(datum.value, '.1f')", "labelPadding": 5, "title": "静圧（kPa）", "titleX": -43, "titleY": 145, "titleBaseline": "middle"}},
      "detail": {"field": "hz"},
      "strokeDash": {"field": "seg", "type": "nominal", "scale": {"domain": ["s", "d"], "range": [[1, 0], [10, 6]]}, "legend": null}}},
    {"data": {"name": "lab"}, "transform": [{"filter": {"field": "panel", "equal": 6}}], "mark": {"type": "text", "fontSize": 14, "color": "#333333", "font": "Liberation Sans"}, "encoding": {"x": {"field": "q", "type": "quantitative"}, "y": {"field": "kpa", "type": "quantitative"}, "text": {"field": "hz"}}}
   ]},
  {"width": 339, "height": 308, "title": {"text": "●MA-2S/6, 2/6", "offset": -31},
   "layer": [
    {"data": {"name": "gx"}, "mark": {"type": "rule", "color": "#e6007e", "strokeWidth": 1.1}, "encoding": {"x": {"field": "v", "type": "quantitative"}, "y": {"datum": 0, "type": "quantitative"}, "y2": {"datum": -5}}},
    {"data": {"name": "gys2"}, "mark": {"type": "rule", "color": "#e6007e", "strokeWidth": 1.1}, "encoding": {"y": {"field": "v", "type": "quantitative"}, "x": {"datum": 0, "type": "quantitative"}, "x2": {"datum": 2}}},
    {"data": {"name": "es2"}, "mark": {"type": "rule", "color": "#e6007e", "strokeWidth": 1.1}, "encoding": {"y": {"field": "v", "type": "quantitative"}}},
    {"data": {"name": "c"}, "transform": [{"filter": {"field": "panel", "equal": 7}}], "mark": {"type": "line", "color": "#231f20", "strokeWidth": 2.4, "interpolate": "monotone"},
     "encoding": {
      "x": {"field": "q", "type": "quantitative", "scale": {"domain": [-0.4125, 2], "nice": false, "zero": false}, "axis": {"offset": -44, "values": [0, 0.4, 0.8, 1.2, 1.6], "labelExpr": "datum.value == 0 ? '0' : format(datum.value, '.1f')", "labelPadding": 1, "title": "風量 （m³/min）", "titleX": 163, "titleY": 29, "titleBaseline": "middle"}},
      "y": {"field": "kpa", "type": "quantitative", "scale": {"domain": [-5.789, 0.965], "nice": false, "zero": false, "reverse": true}, "axis": {"offset": -58, "values": [-1, -2, -3, -4], "labelExpr": "'-' + format(abs(datum.value), '.1f')", "labelPadding": 5, "title": "静圧（kPa）", "titleX": -43, "titleY": 145, "titleBaseline": "middle"}},
      "detail": {"field": "hz"},
      "strokeDash": {"field": "seg", "type": "nominal", "scale": {"domain": ["s", "d"], "range": [[1, 0], [10, 6]]}, "legend": null}}},
    {"data": {"name": "lab"}, "transform": [{"filter": {"field": "panel", "equal": 7}}], "mark": {"type": "text", "fontSize": 14, "color": "#333333", "font": "Liberation Sans"}, "encoding": {"x": {"field": "q", "type": "quantitative"}, "y": {"field": "kpa", "type": "quantitative"}, "text": {"field": "hz"}}}
   ]},
  {"width": 339, "height": 308, "title": {"text": "●MA-2S/5, 2/5", "offset": -31},
   "layer": [
    {"data": {"name": "gx"}, "mark": {"type": "rule", "color": "#e6007e", "strokeWidth": 1.1}, "encoding": {"x": {"field": "v", "type": "quantitative"}, "y": {"datum": 0, "type": "quantitative"}, "y2": {"datum": -5}}},
    {"data": {"name": "gys2"}, "mark": {"type": "rule", "color": "#e6007e", "strokeWidth": 1.1}, "encoding": {"y": {"field": "v", "type": "quantitative"}, "x": {"datum": 0, "type": "quantitative"}, "x2": {"datum": 2}}},
    {"data": {"name": "es2"}, "mark": {"type": "rule", "color": "#e6007e", "strokeWidth": 1.1}, "encoding": {"y": {"field": "v", "type": "quantitative"}}},
    {"data": {"name": "c"}, "transform": [{"filter": {"field": "panel", "equal": 8}}], "mark": {"type": "line", "color": "#231f20", "strokeWidth": 2.4, "interpolate": "monotone"},
     "encoding": {
      "x": {"field": "q", "type": "quantitative", "scale": {"domain": [-0.4125, 2], "nice": false, "zero": false}, "axis": {"offset": -44, "values": [0, 0.4, 0.8, 1.2, 1.6], "labelExpr": "datum.value == 0 ? '0' : format(datum.value, '.1f')", "labelPadding": 1, "title": "風量 （m³/min）", "titleX": 163, "titleY": 29, "titleBaseline": "middle"}},
      "y": {"field": "kpa", "type": "quantitative", "scale": {"domain": [-5.789, 0.965], "nice": false, "zero": false, "reverse": true}, "axis": {"offset": -58, "values": [-1, -2, -3, -4], "labelExpr": "'-' + format(abs(datum.value), '.1f')", "labelPadding": 5, "title": "静圧（kPa）", "titleX": -43, "titleY": 145, "titleBaseline": "middle"}},
      "detail": {"field": "hz"},
      "strokeDash": {"field": "seg", "type": "nominal", "scale": {"domain": ["s", "d"], "range": [[1, 0], [10, 6]]}, "legend": null}}},
    {"data": {"name": "lab"}, "transform": [{"filter": {"field": "panel", "equal": 8}}], "mark": {"type": "text", "fontSize": 14, "color": "#333333", "font": "Liberation Sans"}, "encoding": {"x": {"field": "q", "type": "quantitative"}, "y": {"field": "kpa", "type": "quantitative"}, "text": {"field": "hz"}}}
   ]}
 ]},
 {"spacing": 0, "bounds": "flush", "hconcat": [
  {"width": 339, "height": 312, "title": {"text": "●MA-3S/6, 3/6", "offset": -33},
   "layer": [
    {"data": {"name": "gx"}, "mark": {"type": "rule", "color": "#e6007e", "strokeWidth": 1.1}, "encoding": {"x": {"field": "v", "type": "quantitative"}, "y": {"datum": 0, "type": "quantitative"}, "y2": {"datum": 5}}},
    {"data": {"name": "gyd2"}, "mark": {"type": "rule", "color": "#e6007e", "strokeWidth": 1.1}, "encoding": {"y": {"field": "v", "type": "quantitative"}, "x": {"datum": 0, "type": "quantitative"}, "x2": {"datum": 2}}},
    {"data": {"name": "ed2"}, "mark": {"type": "rule", "color": "#e6007e", "strokeWidth": 1.1}, "encoding": {"y": {"field": "v", "type": "quantitative"}}},
    {"data": {"name": "c"}, "transform": [{"filter": {"field": "panel", "equal": 9}}], "mark": {"type": "line", "color": "#231f20", "strokeWidth": 2.4, "interpolate": "monotone"},
     "encoding": {
      "x": {"field": "q", "type": "quantitative", "scale": {"domain": [-0.4125, 2], "nice": false, "zero": false}, "axis": {"offset": -45, "values": [0, 0.4, 0.8, 1.2, 1.6], "labelExpr": "datum.value == 0 ? '0' : format(datum.value, '.1f')", "labelPadding": 1, "title": "風量 （m³/min）", "titleX": 163, "titleY": 27, "titleBaseline": "middle"}},
      "y": {"field": "kpa", "type": "quantitative", "scale": {"domain": [-0.9825, 5.8297], "nice": false, "zero": false}, "axis": {"offset": -58, "values": [1, 2, 3, 4], "labelExpr": "format(datum.value, '.1f')", "labelPadding": 5, "title": "静圧（kPa）", "titleX": -43, "titleY": 147, "titleBaseline": "middle"}},
      "detail": {"field": "hz"},
      "strokeDash": {"field": "seg", "type": "nominal", "scale": {"domain": ["s", "d"], "range": [[1, 0], [10, 6]]}, "legend": null}}},
    {"data": {"name": "lab"}, "transform": [{"filter": {"field": "panel", "equal": 9}}], "mark": {"type": "text", "fontSize": 14, "color": "#333333", "font": "Liberation Sans"}, "encoding": {"x": {"field": "q", "type": "quantitative"}, "y": {"field": "kpa", "type": "quantitative"}, "text": {"field": "hz"}}}
   ]},
  {"width": 339, "height": 312, "title": {"text": "●MA-3S/5, 3/5", "offset": -33},
   "layer": [
    {"data": {"name": "gx"}, "mark": {"type": "rule", "color": "#e6007e", "strokeWidth": 1.1}, "encoding": {"x": {"field": "v", "type": "quantitative"}, "y": {"datum": 0, "type": "quantitative"}, "y2": {"datum": 5}}},
    {"data": {"name": "gyd2"}, "mark": {"type": "rule", "color": "#e6007e", "strokeWidth": 1.1}, "encoding": {"y": {"field": "v", "type": "quantitative"}, "x": {"datum": 0, "type": "quantitative"}, "x2": {"datum": 2}}},
    {"data": {"name": "ed2"}, "mark": {"type": "rule", "color": "#e6007e", "strokeWidth": 1.1}, "encoding": {"y": {"field": "v", "type": "quantitative"}}},
    {"data": {"name": "c"}, "transform": [{"filter": {"field": "panel", "equal": 10}}], "mark": {"type": "line", "color": "#231f20", "strokeWidth": 2.4, "interpolate": "monotone"},
     "encoding": {
      "x": {"field": "q", "type": "quantitative", "scale": {"domain": [-0.4125, 2], "nice": false, "zero": false}, "axis": {"offset": -45, "values": [0, 0.4, 0.8, 1.2, 1.6], "labelExpr": "datum.value == 0 ? '0' : format(datum.value, '.1f')", "labelPadding": 1, "title": "風量 （m³/min）", "titleX": 163, "titleY": 27, "titleBaseline": "middle"}},
      "y": {"field": "kpa", "type": "quantitative", "scale": {"domain": [-0.9825, 5.8297], "nice": false, "zero": false}, "axis": {"offset": -58, "values": [1, 2, 3, 4], "labelExpr": "format(datum.value, '.1f')", "labelPadding": 5, "title": "静圧（kPa）", "titleX": -43, "titleY": 147, "titleBaseline": "middle"}},
      "detail": {"field": "hz"},
      "strokeDash": {"field": "seg", "type": "nominal", "scale": {"domain": ["s", "d"], "range": [[1, 0], [10, 6]]}, "legend": null}}},
    {"data": {"name": "lab"}, "transform": [{"filter": {"field": "panel", "equal": 10}}], "mark": {"type": "text", "fontSize": 14, "color": "#333333", "font": "Liberation Sans"}, "encoding": {"x": {"field": "q", "type": "quantitative"}, "y": {"field": "kpa", "type": "quantitative"}, "text": {"field": "hz"}}}
   ]},
  {"width": 339, "height": 312, "title": {"text": "●MA-3S/6, 3/6", "offset": -33},
   "layer": [
    {"data": {"name": "gx"}, "mark": {"type": "rule", "color": "#e6007e", "strokeWidth": 1.1}, "encoding": {"x": {"field": "v", "type": "quantitative"}, "y": {"datum": 0, "type": "quantitative"}, "y2": {"datum": -5}}},
    {"data": {"name": "gys2"}, "mark": {"type": "rule", "color": "#e6007e", "strokeWidth": 1.1}, "encoding": {"y": {"field": "v", "type": "quantitative"}, "x": {"datum": 0, "type": "quantitative"}, "x2": {"datum": 2}}},
    {"data": {"name": "es2"}, "mark": {"type": "rule", "color": "#e6007e", "strokeWidth": 1.1}, "encoding": {"y": {"field": "v", "type": "quantitative"}}},
    {"data": {"name": "c"}, "transform": [{"filter": {"field": "panel", "equal": 11}}], "mark": {"type": "line", "color": "#231f20", "strokeWidth": 2.4, "interpolate": "monotone"},
     "encoding": {
      "x": {"field": "q", "type": "quantitative", "scale": {"domain": [-0.4125, 2], "nice": false, "zero": false}, "axis": {"offset": -45, "values": [0, 0.4, 0.8, 1.2, 1.6], "labelExpr": "datum.value == 0 ? '0' : format(datum.value, '.1f')", "labelPadding": 1, "title": "風量 （m³/min）", "titleX": 163, "titleY": 27, "titleBaseline": "middle"}},
      "y": {"field": "kpa", "type": "quantitative", "scale": {"domain": [-5.8297, 0.9825], "nice": false, "zero": false, "reverse": true}, "axis": {"offset": -58, "values": [-1, -2, -3, -4], "labelExpr": "'-' + format(abs(datum.value), '.1f')", "labelPadding": 5, "title": "静圧（kPa）", "titleX": -43, "titleY": 147, "titleBaseline": "middle"}},
      "detail": {"field": "hz"},
      "strokeDash": {"field": "seg", "type": "nominal", "scale": {"domain": ["s", "d"], "range": [[1, 0], [10, 6]]}, "legend": null}}},
    {"data": {"name": "lab"}, "transform": [{"filter": {"field": "panel", "equal": 11}}], "mark": {"type": "text", "fontSize": 14, "color": "#333333", "font": "Liberation Sans"}, "encoding": {"x": {"field": "q", "type": "quantitative"}, "y": {"field": "kpa", "type": "quantitative"}, "text": {"field": "hz"}}}
   ]},
  {"width": 339, "height": 312, "title": {"text": "●MA-3S/5, 3/5", "offset": -33},
   "layer": [
    {"data": {"name": "gx"}, "mark": {"type": "rule", "color": "#e6007e", "strokeWidth": 1.1}, "encoding": {"x": {"field": "v", "type": "quantitative"}, "y": {"datum": 0, "type": "quantitative"}, "y2": {"datum": -5}}},
    {"data": {"name": "gys2"}, "mark": {"type": "rule", "color": "#e6007e", "strokeWidth": 1.1}, "encoding": {"y": {"field": "v", "type": "quantitative"}, "x": {"datum": 0, "type": "quantitative"}, "x2": {"datum": 2}}},
    {"data": {"name": "es2"}, "mark": {"type": "rule", "color": "#e6007e", "strokeWidth": 1.1}, "encoding": {"y": {"field": "v", "type": "quantitative"}}},
    {"data": {"name": "c"}, "transform": [{"filter": {"field": "panel", "equal": 12}}], "mark": {"type": "line", "color": "#231f20", "strokeWidth": 2.4, "interpolate": "monotone"},
     "encoding": {
      "x": {"field": "q", "type": "quantitative", "scale": {"domain": [-0.4125, 2], "nice": false, "zero": false}, "axis": {"offset": -45, "values": [0, 0.4, 0.8, 1.2, 1.6], "labelExpr": "datum.value == 0 ? '0' : format(datum.value, '.1f')", "labelPadding": 1, "title": "風量 （m³/min）", "titleX": 163, "titleY": 27, "titleBaseline": "middle"}},
      "y": {"field": "kpa", "type": "quantitative", "scale": {"domain": [-5.8297, 0.9825], "nice": false, "zero": false, "reverse": true}, "axis": {"offset": -58, "values": [-1, -2, -3, -4], "labelExpr": "'-' + format(abs(datum.value), '.1f')", "labelPadding": 5, "title": "静圧（kPa）", "titleX": -43, "titleY": 147, "titleBaseline": "middle"}},
      "detail": {"field": "hz"},
      "strokeDash": {"field": "seg", "type": "nominal", "scale": {"domain": ["s", "d"], "range": [[1, 0], [10, 6]]}, "legend": null}}},
    {"data": {"name": "lab"}, "transform": [{"filter": {"field": "panel", "equal": 12}}], "mark": {"type": "text", "fontSize": 14, "color": "#333333", "font": "Liberation Sans"}, "encoding": {"x": {"field": "q", "type": "quantitative"}, "y": {"field": "kpa", "type": "quantitative"}, "text": {"field": "hz"}}}
   ]}
 ]}
]
}
